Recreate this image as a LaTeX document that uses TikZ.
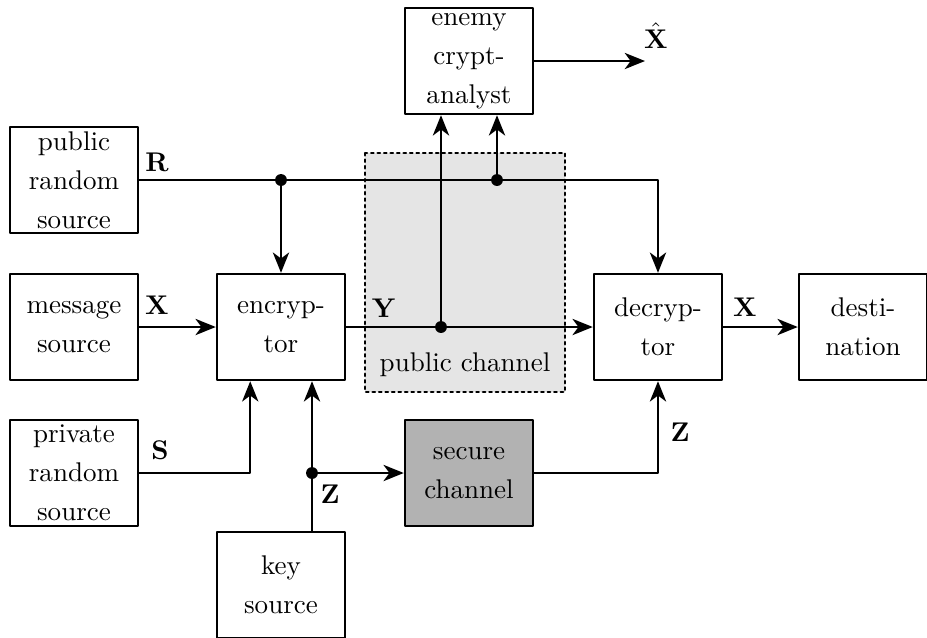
\documentclass[tikz,border=0pt]{standalone}
\usepackage{amsmath,amssymb}
\usepackage{tikz}
\usepackage{xcolor}
\usetikzlibrary{arrows.meta}

\tikzset{
  blk/.style={draw, line width=0.9pt, align=center, minimum width=1.664cm, minimum height=1.378cm,
    inner sep=1pt, font=\linespread{1.2}\selectfont},
  conn/.style={line width=0.9pt, -{Stealth[length=7.5pt, width=6pt, inset=2.2pt]}},
  dot/.style={fill, circle, inner sep=0pt, minimum size=4.4pt}
}

\begin{document}
\begin{tikzpicture}[x=0.013cm, y=-0.013cm, line cap=round, line join=round]
\useasboundingbox (0,0) rectangle (927,638);

% public channel
\draw[line width=0.9pt, dash pattern=on 0.9pt off 1.5pt, fill=gray!20] (365,153) rectangle (565,392);
\node (pubch) at (465,365) {public channel};

% blocks
\node[blk] (pubsrc) at (74,180) {public\\random\\source};
\node[blk] (msgsrc) at (74,327) {message\\source};
\node[blk] (privsrc) at (74,473) {private\\random\\source};
\node[blk] (enc) at (281,327) {encryp-\\tor};
\node[blk] (keysrc) at (281,585) {key\\source};
\node[blk, fill=gray!60] (secch) at (469,473) {secure\\channel};
\node[blk] (dec) at (658,327) {decryp-\\tor};
\node[blk] (dest) at (863,327) {desti-\\nation};
\node[blk] (enemy) at (469,61) {enemy\\crypt-\\analyst};

% taps
\coordinate (rtap) at (281,180);
\coordinate (etap) at (497,180);
\coordinate (ytap) at (441,327);
\coordinate (ktap) at (312,473);
\coordinate (xhat) at (645,61);

% connectors
\draw[conn] (pubsrc) -- (pubsrc -| dec) -- (dec);
\draw[conn] (rtap) -- (enc);
\draw[conn] (etap) -- (etap |- enemy.south);
\draw[conn] (msgsrc) -- (enc);
\draw[conn] (enc) -- (dec);
\draw[conn] (ytap) -- (ytap |- enemy.south);
\draw[conn] (privsrc) -| ([xshift=-0.4cm]enc.south);
\draw[conn] (ktap |- keysrc.north) -- (ktap |- enc.south);
\draw[conn] (ktap) -- (secch);
\draw[conn] (secch) -| (dec);
\draw[conn] (dec) -- (dest);
\draw[conn] (enemy) -- (xhat);

\node[dot] (rdot) at (rtap) {};
\node[dot] (edot) at (etap) {};
\node[dot] (ydot) at (ytap) {};
\node[dot] (kdot) at (ktap) {};

% labels
\node (rlbl) at (157,162) {$\mathbf{R}$};
\node (xlbl) at (157,305) {$\mathbf{X}$};
\node (slbl) at (160,450) {$\mathbf{S}$};
\node (ylbl) at (384,308) {$\mathbf{Y}$};
\node (zlbl) at (330,494) {$\mathbf{Z}$};
\node (zdlbl) at (680,432) {$\mathbf{Z}$};
\node (xdlbl) at (745,307) {$\mathbf{X}$};
\node[inner sep=1pt] (xhlbl) at (656,36) {$\hat{\mathbf{X}}$};
\end{tikzpicture}
\end{document}
